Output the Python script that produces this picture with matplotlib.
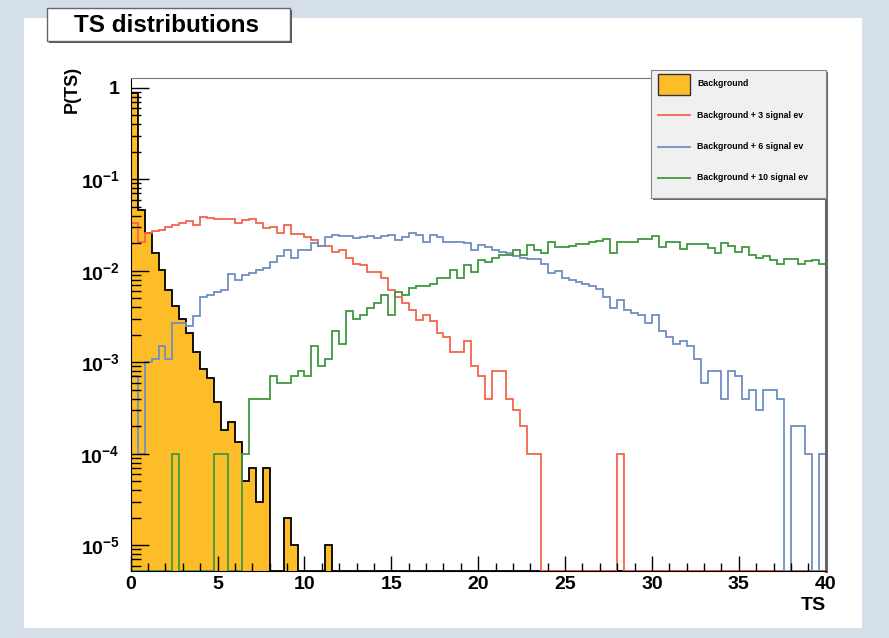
import numpy as np
import matplotlib.pyplot as plt
from matplotlib.patches import Rectangle
from matplotlib.ticker import LogLocator, NullFormatter

plt.rcParams['font.family'] = ['Liberation Sans', 'DejaVu Sans']
plt.rcParams['font.weight'] = 'bold'
plt.rcParams['mathtext.fontset'] = 'custom'
plt.rcParams['mathtext.rm'] = 'Liberation Sans'
plt.rcParams['mathtext.bf'] = 'Liberation Sans:bold'

# 100 bins of width 0.4 from 0 to 40
edges = np.linspace(0, 40, 101)

# P(TS) per bin (0 = empty bin)
background = [0.88, 0.046, 0.026, 0.0158, 0.0102, 0.0062, 0.0041, 0.0030, 0.0021, 0.0013,
              0.00085, 0.00068, 0.00037, 0.00018, 0.00022, 0.000135, 0.00005, 0.00007, 0.00003, 0.00007,
              0, 0, 0.00002, 0.00001, 0, 0, 0, 0, 0.00001, 0] + [0] * 70

sig3 = [0.0335, 0.0204, 0.0260, 0.0269, 0.0282, 0.0302, 0.0316, 0.0331, 0.0347, 0.0316,
        0.0389, 0.0380, 0.0367, 0.0367, 0.0367, 0.0331, 0.0355, 0.0367, 0.0331, 0.0295,
        0.0302, 0.0257, 0.0316, 0.0254, 0.0254, 0.0237, 0.0219, 0.0186, 0.0186, 0.0162,
        0.0170, 0.0138, 0.0120, 0.0117, 0.0098, 0.0098, 0.0083, 0.0062, 0.0052, 0.0045,
        0.0037, 0.0029, 0.0033, 0.0028, 0.0021, 0.0019, 0.0013, 0.0013, 0.0017, 0.0009,
        0.0007, 0.0004, 0.0008, 0.0008, 0.0004, 0.0003, 0.0002, 0.0001, 0.0001, 0,
        0, 0, 0, 0, 0, 0, 0, 0, 0, 0,
        0.0001, 0, 0, 0, 0, 0, 0, 0, 0, 0] + [0] * 20

sig6 = [0.0007, 0.0001, 0.0010, 0.0011, 0.0015, 0.0011, 0.0027, 0.0027, 0.0025, 0.0032,
        0.0052, 0.0055, 0.0059, 0.0062, 0.0093, 0.0079, 0.0089, 0.0095, 0.0102, 0.0107,
        0.0126, 0.0145, 0.0170, 0.0138, 0.0170, 0.0170, 0.0200, 0.0186, 0.0237, 0.0245,
        0.0240, 0.0240, 0.0229, 0.0234, 0.0240, 0.0229, 0.0240, 0.0245, 0.0219, 0.0237,
        0.0257, 0.0245, 0.0209, 0.0245, 0.0237, 0.0209, 0.0209, 0.0209, 0.0200, 0.0170,
        0.0191, 0.0182, 0.0170, 0.0162, 0.0155, 0.0145, 0.0138, 0.0135, 0.0135, 0.0120,
        0.0094, 0.0100, 0.0083, 0.0079, 0.0076, 0.0071, 0.0069, 0.0063, 0.0052, 0.0039,
        0.0048, 0.0037, 0.0035, 0.0033, 0.0027, 0.0033, 0.0022, 0.0019, 0.0016, 0.0017,
        0.0015, 0.0011, 0.0006, 0.0008, 0.0008, 0.0004, 0.0008, 0.0007, 0.0004, 0.0005,
        0.0003, 0.0005, 0.0005, 0.0004, 0, 0.0002, 0.0002, 0.0001, 0, 0.0001]

sig10 = [0, 0, 0, 0, 0, 0, 0.0001, 0, 0, 0,
         0, 0, 0.0001, 0.0001, 0, 0, 0.0001, 0.0004, 0.0004, 0.0004,
         0.0007, 0.0006, 0.0006, 0.0007, 0.0008, 0.0007, 0.0015, 0.0009, 0.0011, 0.0022,
         0.0016, 0.0036, 0.0030, 0.0033, 0.0039, 0.0045, 0.0055, 0.0033, 0.0059, 0.0055,
         0.0065, 0.0068, 0.0068, 0.0071, 0.0083, 0.0083, 0.0102, 0.0083, 0.0117, 0.0098,
         0.0132, 0.0126, 0.0138, 0.0150, 0.0150, 0.0170, 0.0150, 0.0191, 0.0170, 0.0158,
         0.0209, 0.0180, 0.0180, 0.0188, 0.0195, 0.0195, 0.0204, 0.0214, 0.0221, 0.0158,
         0.0204, 0.0204, 0.0209, 0.0221, 0.0221, 0.0240, 0.0180, 0.0204, 0.0204, 0.0174,
         0.0195, 0.0195, 0.0195, 0.0178, 0.0158, 0.0200, 0.0186, 0.0162, 0.0180, 0.0150,
         0.0138, 0.0145, 0.0132, 0.0120, 0.0135, 0.0135, 0.0120, 0.0129, 0.0132, 0.0120]

labels = ['Background', 'Background + 3 signal ev', 'Background + 6 signal ev',
          'Background + 10 signal ev']
colors = ['#fdbd28', '#f5654d', '#6f8fc3', '#3f9a3f']

xticks = [0, 5, 10, 15, 20, 25, 30, 35, 40]
yticks = [1e-5, 1e-4, 1e-3, 1e-2, 1e-1, 1]
ytick_labels = [r'$\mathbf{10^{-5}}$', r'$\mathbf{10^{-4}}$', r'$\mathbf{10^{-3}}$',
                r'$\mathbf{10^{-2}}$', r'$\mathbf{10^{-1}}$', '1']

ymin, ymax = 5.3e-6, 1.28

W, H = 889, 638
fig = plt.figure(figsize=(W / 100, H / 100), dpi=100)
fig.patch.set_facecolor('#d5dfe9')
fig.add_artist(Rectangle((24 / W, 1 - 628 / H), (862 - 24) / W, (628 - 18) / H,
                         transform=fig.transFigure, facecolor='white', edgecolor='none', zorder=0))

ax = fig.add_axes([130.7 / W, 1 - 570.5 / H, 695 / W, 492.5 / H])
ax.set_yscale('log')


def floor(v):
    v = np.asarray(v, dtype=float)
    return np.where(v > 0, v, ymin)


ax.stairs(floor(background), edges, baseline=ymin, fill=True, facecolor=colors[0], edgecolor='none')
ax.stairs(floor(background), edges, baseline=ymin, color='black', lw=1.3)
ax.stairs(floor(sig3), edges, baseline=ymin, color=colors[1], lw=1.3)
ax.stairs(floor(sig6), edges, baseline=ymin, color=colors[2], lw=1.3)
ax.stairs(floor(sig10), edges, baseline=ymin, color=colors[3], lw=1.3)

ax.set_xlim(0, 40)
ax.set_ylim(ymin, ymax)
ax.set_xticks(xticks)
ax.set_xticks(np.arange(0, 41, 1), minor=True)
ax.set_yticks(yticks, ytick_labels)
ax.yaxis.set_minor_locator(LogLocator(base=10, subs=np.arange(2, 10)))
ax.yaxis.set_minor_formatter(NullFormatter())
ax.tick_params(axis='both', which='both', direction='in', top=False, right=False, color='black')
ax.tick_params(axis='x', which='major', length=11, width=1, labelsize=14, pad=4)
ax.tick_params(axis='x', which='minor', length=6, width=1)
ax.tick_params(axis='y', which='major', length=13, width=1, labelsize=14, pad=8)
ax.tick_params(axis='y', which='minor', length=7, width=1)
ax.spines['top'].set_color('#777777')
ax.spines['right'].set_color('#666666')
ax.spines['right'].set_linewidth(2.2)

fig.text(72 / W, 1 - 66 / H, 'P(TS)', rotation=90, ha='center', va='top', fontsize=13)
fig.text(826 / W, 1 - 606 / H, 'TS', ha='right', va='center', fontsize=14)

# title pave with shadow
fig.add_artist(Rectangle((49 / W, 1 - 43 / H), 243 / W, 33 / H, transform=fig.transFigure,
                         facecolor='#555555', edgecolor='none', zorder=3))
fig.add_artist(Rectangle((47 / W, 1 - 41 / H), 243 / W, 33 / H, transform=fig.transFigure,
                         facecolor='white', edgecolor='#666666', lw=1, zorder=4))
fig.text(167 / W, 1 - 25 / H, 'TS distributions', ha='center', va='center', fontsize=17.5, zorder=5)

# legend
sh = fig.add_axes([653 / W, 1 - 200 / H, 175 / W, 128 / H])
sh.set_facecolor('#666666')
sh.set_xticks([]); sh.set_yticks([])
for s in sh.spines.values():
    s.set_visible(False)
lg = fig.add_axes([651 / W, 1 - 198 / H, 175 / W, 128 / H])
lg.set_xlim(651, 826)
lg.set_ylim(198, 70)
lg.set_facecolor('#f0f0f0')
lg.set_xticks([]); lg.set_yticks([])
for s in lg.spines.values():
    s.set_color('#888888')
    s.set_linewidth(0.8)
entry_y = [84, 115.5, 147, 178]
lg.add_patch(Rectangle((658, 74), 32, 21, facecolor=colors[0], edgecolor='#333333', lw=1))
for i in range(1, 4):
    lg.plot([658, 690], [entry_y[i], entry_y[i]], color=colors[i], lw=1.3)
for i in range(4):
    lg.text(697, entry_y[i], labels[i], fontsize=6.3, va='center', ha='left')

fig.savefig('out.png', dpi=100, facecolor=fig.get_facecolor())
